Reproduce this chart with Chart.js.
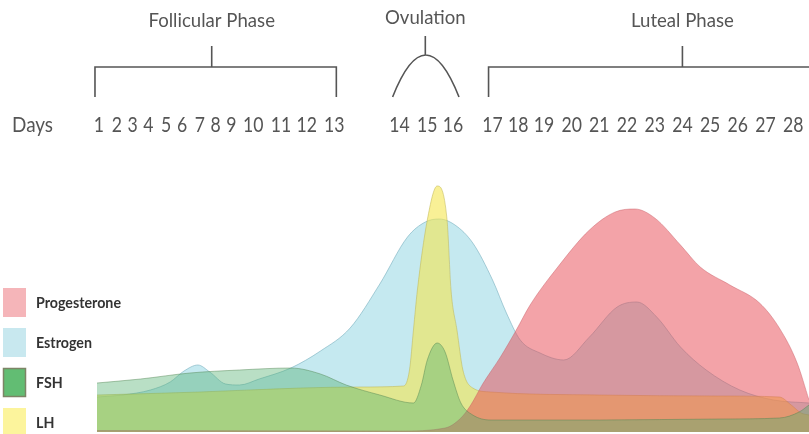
<!DOCTYPE html>
<html>
<head>
<meta charset="utf-8">
<script src="https://cdn.jsdelivr.net/npm/chart.js@4.4.1/dist/chart.umd.min.js"></script>
<style>
  html, body { margin: 0; padding: 0; background: #fff; }
  #wrap { width: 809px; height: 434px; position: relative; }
</style>
</head>
<body>
<div id="wrap"><canvas id="cycleChart"></canvas></div>
<script>
// top row: day numbers and where each one sits on the cycle axis (0..36)
const dayLabels = ['1', '2', '3', '4', '5', '6', '7', '8', '9', '10', '11', '12', '13',
    '14', '15', '16',
    '17', '18', '19', '20', '21', '22', '23', '24', '25', '26', '27', '28'];
const dayPos = [0.1, 1.0, 1.8, 2.6, 3.5, 4.3, 5.2, 6.0, 6.8, 7.9, 9.3, 10.6, 12.0,
    15.3, 16.7, 18.0,
    20.0, 21.3, 22.6, 24.0, 25.4, 26.8, 28.2, 29.6, 31.0, 32.4, 33.8, 35.2];

const phaseNames = ['Follicular Phase', 'Ovulation', 'Luteal Phase'];
const phaseFirstDay = [1, 14, 17];
const phaseLastDay = [13, 16, 28];
const phaseMidPos = [5.8, 16.6, 29.6];

// hormone levels (relative, 0..100) along the cycle axis
const progesteroneX = [0, 15.3, 17.6, 18.4, 18.9, 19.5, 20.4, 21.2, 21.9, 23.3, 24.9, 26.2, 27.2, 28.2, 29.5, 30.5, 32.0, 33.5, 34.5, 35.4, 36];
const progesteroneY = [0.6, 0.4, 1.6, 5.6, 10.8, 19.2, 30, 40.8, 50.8, 66, 80.8, 88, 89.2, 85.6, 74.8, 66, 58.8, 51.6, 41.6, 27.6, 12.8];

const estrogenX = [0, 1.3, 2.7, 3.7, 4.4, 5.1, 5.7, 6.5, 7.2, 8.2, 9.8, 11.3, 12.8, 14.3, 15.7, 16.6, 17.3, 18.1, 19.0, 20.0, 20.7, 21.4, 22.4, 23.6, 24.9, 26.3, 27.3, 28.3, 29.5, 30.8, 32.5, 34.2, 36];
const estrogenY = [14, 14.8, 16.8, 20, 24.4, 26.8, 24, 19.2, 18.8, 21.2, 25.6, 32.4, 41.6, 59.2, 78, 84, 85.2, 82.8, 75.6, 60.8, 47.6, 36.8, 31.6, 28.8, 38, 50, 52, 46, 34, 24.8, 16.8, 12.8, 11.6];

const fshX = [0, 2.2, 4.7, 7.2, 9.8, 11.3, 12.6, 14.3, 16.0, 16.4, 16.7, 17.2, 17.6, 18.0, 18.4, 19.0, 19.9, 25.4, 31.5, 34.5, 35.5, 36];
const fshY = [19.6, 21.2, 23.6, 24.8, 25.6, 23.2, 18.8, 14.8, 11.6, 18.8, 28.8, 35.6, 32, 20.8, 11.6, 6.8, 4.8, 4.8, 5.2, 5.6, 8, 10.8];

const lhX = [0, 5.2, 10.3, 13.3, 15.5, 15.8, 16.0, 16.2, 16.7, 17.2, 17.7, 17.9, 18.2, 18.5, 19.0, 19.9, 25.4, 31.5, 34.5, 35.1, 35.6, 36];
const lhY = [14.8, 16, 17.6, 18, 18.4, 24.8, 40.8, 56.8, 84.8, 98.4, 84.8, 56.8, 40.8, 24.8, 17.6, 16, 14.8, 14.4, 14, 10.8, 7.6, 6.8];

function toPoints(xs, ys) {
    return xs.map((x, i) => ({ x: x, y: ys[i] }));
}

const textGrey = '#555';

// the original typeface is narrow, squeeze Lato a bit
function narrowText(ctx, text, x, y, squeeze) {
    ctx.save();
    ctx.translate(x, y);
    ctx.scale(squeeze, 1);
    ctx.fillText(text, 0, 0);
    ctx.restore();
}

const decorPlugin = {
    id: 'cycleDecor',
    afterDraw(chart) {
        const ctx = chart.ctx;
        const xs = chart.scales.x;
        const px = v => xs.getPixelForValue(v);
        ctx.save();

        // phase names, brackets and the ovulation arc
        ctx.strokeStyle = textGrey;
        ctx.lineWidth = 1.6;
        ctx.fillStyle = textGrey;
        ctx.font = '20px Lato';
        ctx.textAlign = 'center';
        ctx.textBaseline = 'middle';
        phaseNames.forEach((name, i) => {
            const left = px(dayPos[phaseFirstDay[i] - 1]) - 4;
            let right = px(dayPos[phaseLastDay[i] - 1]) + 2;
            if (i === phaseNames.length - 1) right = chart.width + 2;
            const mid = px(phaseMidPos[i]);
            ctx.beginPath();
            if (name === 'Ovulation') {
                const l = left - 3, r = right + 4;
                narrowText(ctx, name, mid, 18, 0.93);
                ctx.moveTo(l, 97);
                ctx.quadraticCurveTo((l + r) / 2, 13, r, 97);
                ctx.moveTo(mid, 36);
                ctx.lineTo(mid, 55);
            } else {
                narrowText(ctx, name, mid, 21, 0.93);
                ctx.moveTo(left, 97);
                ctx.lineTo(left, 67);
                ctx.lineTo(right, 67);
                ctx.lineTo(right, 97);
                ctx.moveTo(mid, 46);
                ctx.lineTo(mid, 67);
            }
            ctx.stroke();
        });

        // day row
        ctx.font = '21px Lato';
        ctx.textAlign = 'left';
        narrowText(ctx, 'Days', 12, 125, 0.9);
        ctx.textAlign = 'center';
        dayLabels.forEach((d, i) => narrowText(ctx, d, px(dayPos[i]), 125, 0.84));

        // legend, top to bottom
        ctx.textAlign = 'left';
        ctx.font = 'bold 15px Lato';
        chart.data.datasets.forEach((ds, i) => {
            const top = 288 + i * 40;
            ctx.fillStyle = ds.swatch;
            ctx.fillRect(3, top, 23, 29);
            if (ds.swatchBorder) {
                ctx.strokeStyle = ds.swatchBorder;
                ctx.lineWidth = 1.5;
                ctx.strokeRect(3.5, top + 0.5, 22, 28);
            }
            ctx.fillStyle = '#333';
            narrowText(ctx, ds.label, 36, top + 15, 0.95);
        });
        ctx.restore();
    }
};

const ctx = document.getElementById('cycleChart').getContext('2d');

new Chart(ctx, {
    type: 'line',
    data: {
        datasets: [
            {
                label: 'Progesterone',
                data: toPoints(progesteroneX, progesteroneY),
                backgroundColor: 'rgba(231, 71, 81, 0.5)',
                borderColor: 'rgba(200, 90, 100, 0.45)',
                swatch: '#f5b5b9',
                fill: 'origin',
                order: 2
            },
            {
                label: 'Estrogen',
                data: toPoints(estrogenX, estrogenY),
                backgroundColor: 'rgba(150, 215, 228, 0.55)',
                borderColor: 'rgba(120, 175, 190, 0.6)',
                swatch: '#c8e8ef',
                fill: 'origin',
                order: 4
            },
            {
                label: 'FSH',
                data: toPoints(fshX, fshY),
                backgroundColor: 'rgba(80, 175, 110, 0.4)',
                borderColor: 'rgba(80, 130, 80, 0.45)',
                swatch: '#62bd73',
                swatchBorder: '#7d8466',
                fill: 'origin',
                order: 1
            },
            {
                label: 'LH',
                data: toPoints(lhX, lhY),
                backgroundColor: 'rgba(245, 230, 80, 0.6)',
                borderColor: 'rgba(190, 180, 80, 0.5)',
                swatch: '#fcf49c',
                fill: 'origin',
                order: 3
            }
        ]
    },
    options: {
        responsive: true,
        maintainAspectRatio: false,
        animation: false,
        events: [],
        layout: {
            padding: { left: 97, top: 182, right: 0, bottom: 2 }
        },
        elements: {
            point: { radius: 0 },
            line: { borderWidth: 1, cubicInterpolationMode: 'monotone' }
        },
        scales: {
            x: { type: 'linear', min: 0, max: 36, display: false },
            y: { min: 0, max: 100, display: false }
        },
        plugins: {
            legend: { display: false },
            tooltip: { enabled: false }
        }
    },
    plugins: [decorPlugin]
});
</script>
</body>
</html>
